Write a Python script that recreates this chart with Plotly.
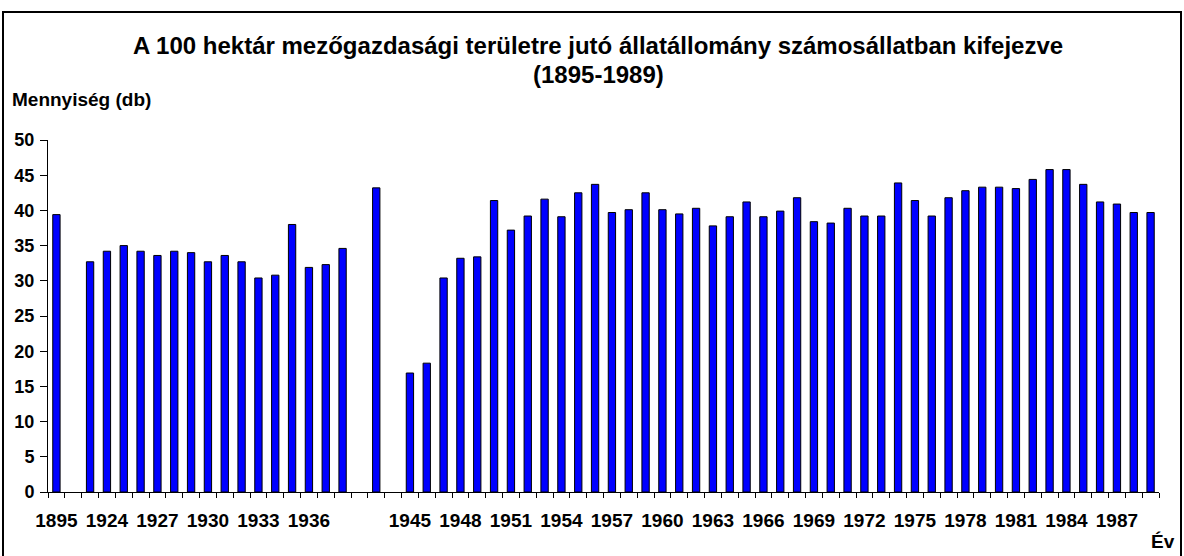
import plotly.graph_objects as go

# ---- data ----
categories = (["1895", "", "1923", "1924", "1925", "1926", "1927", "1928", "1929", "1930",
               "1931", "1932", "1933", "1934", "1935", "1936", "1937", "1938", "", "1942", ""]
              + [str(y) for y in range(1945, 1990)])
values = [39.4, None, 32.7, 34.2, 35.0, 34.2, 33.6, 34.2, 34.0, 32.7,
          33.6, 32.7, 30.4, 30.8, 38.0, 31.9, 32.3, 34.6, None, 43.2, None,
          # 1945-1967
          16.9, 18.3, 30.4, 33.2, 33.4, 41.4, 37.2, 39.2, 41.6, 39.1,
          42.5, 43.7, 39.7, 40.1, 42.5, 40.1, 39.5, 40.3, 37.8, 39.1,
          41.2, 39.1, 39.9,
          # 1968-1989
          41.8, 38.4, 38.2, 40.3, 39.2, 39.2, 43.9, 41.4, 39.2, 41.8,
          42.8, 43.3, 43.3, 43.1, 44.4, 45.8, 45.8, 43.7, 41.2, 40.9,
          39.7, 39.7]
y_ticks = [0, 5, 10, 15, 20, 25, 30, 35, 40, 45, 50]
title_line1 = "A 100 hektár mezőgazdasági területre jutó állatállomány számosállatban kifejezve"
title_line2 = "(1895-1989)"
y_title = "Mennyiség (db)"
x_title = "Év"

positions = list(range(len(categories)))
label_pos = positions[::3]
label_txt = categories[::3]

FONT = "Liberation Sans, Arial, Helvetica, sans-serif"

fig = go.Figure()
fig.add_trace(go.Bar(
    x=positions, y=values,
    marker=dict(color="#0000FF", line=dict(color="#000000", width=1)),
    hoverinfo="x+y",
))

W, H = 1184, 556
ml, mr, mt, mb = 48, 25, 140, 64
pw, ph = W - ml - mr, H - mt - mb

def px(xp):
    return (xp - ml) / pw

def py(yp):
    return (H - mb - yp) / ph

fig.update_layout(
    width=W, height=H,
    margin=dict(l=ml, r=mr, t=mt, b=mb, pad=0),
    paper_bgcolor="white", plot_bgcolor="white",
    bargap=0.565,
    showlegend=False,
    font=dict(family=FONT, color="black"),
    xaxis=dict(
        range=[-0.5, len(categories) - 0.5],
        tickmode="array", tickvals=label_pos, ticktext=label_txt,
        ticks="", showgrid=False, zeroline=False,
        showline=True, linecolor="black", linewidth=1,
        tickfont=dict(size=19, family=FONT, weight="bold", color="black"),
        ticklabelstandoff=11,
        minor=dict(tickmode="linear", tick0=-0.5, dtick=1, ticks="outside",
                   ticklen=5, tickcolor="black", tickwidth=1, showgrid=False),
        fixedrange=True,
    ),
    yaxis=dict(
        range=[0, 50],
        tickmode="array", tickvals=y_ticks,
        ticks="outside", ticklen=7, tickcolor="black", tickwidth=1,
        showgrid=False, zeroline=False,
        showline=True, linecolor="black", linewidth=1,
        tickfont=dict(size=18, family=FONT, weight="bold", color="black"),
        ticklabelstandoff=2,
        fixedrange=True,
    ),
    shapes=[dict(type="rect", xref="paper", yref="paper",
                 x0=px(3), x1=px(1181), y0=py(12), y1=py(560),
                 line=dict(color="black", width=2), fillcolor="rgba(0,0,0,0)",
                 layer="below")],
    annotations=[
        dict(text=title_line1, xref="paper", yref="paper", x=px(598), y=py(45),
             xanchor="center", yanchor="middle", showarrow=False,
             font=dict(size=24, family=FONT, weight="bold", color="black")),
        dict(text=title_line2, xref="paper", yref="paper", x=px(598), y=py(74),
             xanchor="center", yanchor="middle", showarrow=False,
             font=dict(size=24, family=FONT, weight="bold", color="black")),
        dict(text=y_title, xref="paper", yref="paper", x=px(10), y=py(99),
             xanchor="left", yanchor="middle", showarrow=False,
             font=dict(size=19, family=FONT, weight="bold", color="black")),
        dict(text=x_title, xref="paper", yref="paper", x=px(1163), y=py(541),
             xanchor="center", yanchor="middle", showarrow=False,
             font=dict(size=19, family=FONT, weight="bold", color="black")),
    ],
)

fig.write_html("out.html",
               config={"displayModeBar": False},
               post_script="document.body.style.margin='0';document.body.style.padding='0';")
